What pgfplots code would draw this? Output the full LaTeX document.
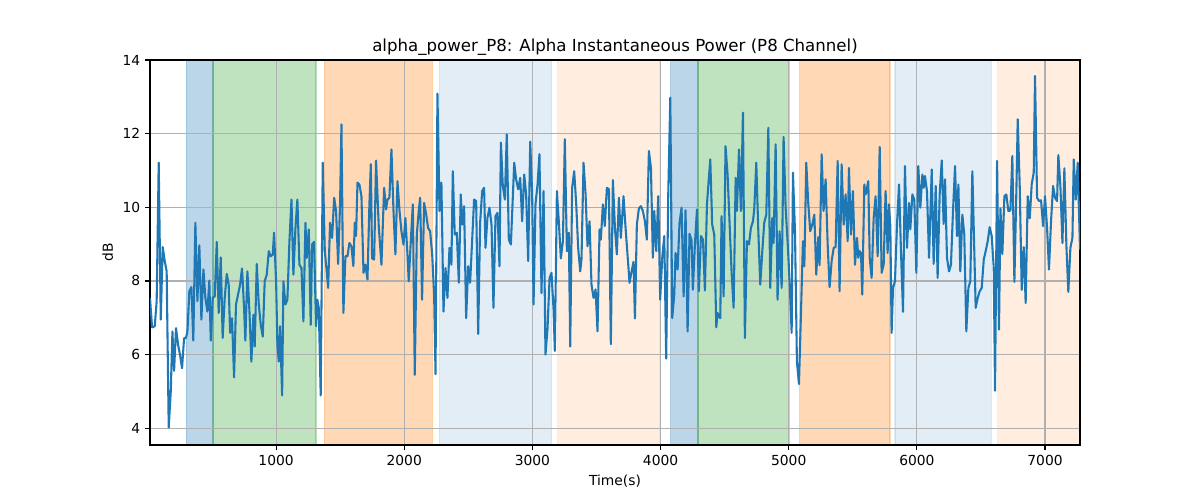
\documentclass[border=0pt]{standalone}
\usepackage{pgfplots}
\pgfplotsset{compat=1.18}
\usepackage{fontspec}
\setmainfont{DejaVu Sans}
\definecolor{tabblue}{RGB}{31,119,180}
\definecolor{taborange}{RGB}{255,127,14}
\definecolor{tabgreen}{RGB}{44,160,44}
\definecolor{gridgray}{RGB}{176,176,176}
\pgfplotsset{
  common/.style={
    at={(1.5in,0.55in)}, anchor=south west,
    scale only axis, width=9.3in, height=3.85in,
    xmin=16, xmax=7273, ymin=3.545, ymax=14,
  },
  span/.style={fill=#1, draw=#1, opacity=0.3, line width=1bp},
  lspan/.style={fill=#1, draw=#1, opacity=0.13, line width=1bp},
}
\begin{document}
\begin{tikzpicture}
\path[use as bounding box] (0,0) rectangle (12in,5in);
% background axis with shaded epochs
\begin{axis}[common, hide axis]
\addplot[span=tabblue] coordinates {(300,0) (300,20) (508,20) (508,0)} \closedcycle;
\addplot[span=tabgreen] coordinates {(508,0) (508,20) (1312,20) (1312,0)} \closedcycle;
\addplot[span=taborange] coordinates {(1377,0) (1377,20) (2220,20) (2220,0)} \closedcycle;
\addplot[lspan=tabblue] coordinates {(2275,0) (2275,20) (3149,20) (3149,0)} \closedcycle;
\addplot[lspan=taborange] coordinates {(3196,0) (3196,20) (3995,20) (3995,0)} \closedcycle;
\addplot[span=tabblue] coordinates {(4078,0) (4078,20) (4291,20) (4291,0)} \closedcycle;
\addplot[span=tabgreen] coordinates {(4291,0) (4291,20) (5004,20) (5004,0)} \closedcycle;
\addplot[span=taborange] coordinates {(5085,0) (5085,20) (5790,20) (5790,0)} \closedcycle;
\addplot[lspan=tabblue] coordinates {(5829,0) (5829,20) (6581,20) (6581,0)} \closedcycle;
\addplot[lspan=taborange] coordinates {(6631,0) (6631,20) (7400,20) (7400,0)} \closedcycle;
\end{axis}
\begin{axis}[common,
  xtick={1000,2000,...,7000}, ytick={4,6,...,14},
  scaled x ticks=false,
  /pgf/number format/1000 sep={},
  /pgf/number format/assume math mode=true,
  tick align=outside, tick pos=left,
  major tick length=3.5bp,
  tick style={black, line width=0.8bp},
  axis line style={black, line width=0.8bp},
  grid=major,
  major grid style={gridgray, line width=0.8bp},
  ticklabel style={font=\fontsize{10}{12}\selectfont},
  label style={font=\fontsize{10}{12}\selectfont},
  title style={font=\fontsize{12}{14.4}\selectfont, yshift=-0.09in},
  title={alpha\_power\_P8: Alpha Instantaneous Power (P8 Channel)},
  xlabel={Time(s)}, ylabel={dB},
]
\addplot[sharp plot, tabblue, line width=1.5bp, line join=round, mark=none] coordinates {
(16,7.54) (32,6.74) (53,6.77) (68,7.45) (84,11.21) (100,6.95) (115,8.92) (131,8.54) (146,8.26) (162,4.02) (178,5.0) (191,6.63) (204,5.56) (219,6.72) (235,6.27) (250,6.0) (266,5.63) (282,6.45) (297,6.45) (308,6.63) (323,7.72) (339,7.83) (354,6.38) (370,9.58) (386,7.45) (401,8.97) (417,6.95) (433,8.31) (448,7.54) (464,7.17) (479,8.01) (490,6.38) (505,7.54) (521,7.58) (537,9.06) (552,7.13) (568,8.64) (583,6.45) (599,7.54) (615,8.19) (630,7.9) (641,6.59) (656,6.99) (672,5.38) (687,7.36) (703,7.63) (719,7.9) (734,8.34) (750,7.27) (760,6.38) (776,8.26) (792,7.17) (807,5.81) (823,7.08) (833,6.22) (849,8.46) (864,7.4) (880,6.81) (896,6.49) (911,7.99)
(927,8.17) (943,8.81) (958,8.67) (974,8.72) (984,9.31) (1000,7.99) (1010,6.27) (1021,5.81) (1031,6.77) (1047,4.89) (1057,7.99) (1073,7.36) (1088,7.49) (1104,9.08) (1120,10.21) (1135,8.17) (1151,9.44) (1166,10.21) (1182,8.44) (1198,8.35) (1213,6.9) (1229,9.58) (1239,8.63) (1255,9.4) (1270,6.81) (1281,8.99) (1296,9.06) (1312,6.77) (1322,7.49) (1333,7.27) (1348,4.89) (1364,11.21) (1380,8.81) (1395,8.26) (1406,7.81) (1421,9.58) (1437,9.17) (1453,10.26) (1468,9.9) (1484,8.46) (1499,10.08) (1510,12.25) (1525,7.13) (1541,8.67) (1557,8.67) (1572,9.03) (1588,8.94) (1603,8.4) (1614,9.58) (1624,9.22) (1635,10.67) (1650,10.62) (1666,10.3) (1682,8.22) (1697,8.44) (1713,8.04) (1728,10.08) (1739,11.17) (1749,8.61) (1765,8.58) (1780,11.27) (1801,9.49) (1822,8.44)
(1843,10.53) (1858,9.94) (1869,10.21) (1884,10.26) (1900,11.57) (1916,9.9) (1931,8.72) (1947,10.71) (1963,9.9) (1978,9.35) (1994,8.99) (2009,9.71) (2025,8.72) (2035,7.99) (2051,9.08) (2067,10.08) (2082,5.45) (2098,9.26) (2113,9.9) (2124,10.26) (2139,7.49) (2155,10.12) (2171,9.81) (2186,9.44) (2202,9.35) (2218,8.72) (2233,7.63) (2244,5.47) (2259,13.09) (2275,9.9) (2290,10.67) (2306,7.17) (2322,8.35) (2337,7.54) (2353,8.9) (2368,8.44) (2379,10.98) (2394,9.26) (2410,9.31) (2426,7.95) (2441,10.35) (2452,9.53) (2467,10.03) (2483,6.99) (2499,8.4) (2514,7.95) (2530,9.12) (2545,10.21) (2561,10.17) (2577,6.56) (2592,9.58) (2608,10.44) (2623,10.53) (2634,8.9) (2649,9.71) (2665,9.99) (2681,9.53) (2696,7.27) (2712,9.76) (2728,9.85) (2743,8.4) (2754,11.76)
(2769,10.58) (2785,10.21) (2800,11.98) (2816,9.12) (2832,8.99) (2847,10.26) (2858,11.21) (2873,10.76) (2889,10.49) (2905,10.8) (2920,9.62) (2936,10.89) (2951,10.35) (2967,8.54) (2983,11.78) (2998,10.35) (3009,7.36) (3024,10.08) (3040,10.62) (3055,11.44) (3071,7.67) (3087,10.44) (3102,6.0) (3118,6.72) (3134,8.08) (3149,8.22) (3165,7.22) (3175,6.1) (3191,10.44) (3206,9.62) (3222,8.61) (3238,9.08) (3253,11.85) (3269,8.81) (3284,9.31) (3295,6.22) (3310,10.53) (3326,10.98) (3342,10.08) (3357,8.9) (3373,8.26) (3383,8.58) (3399,11.21) (3415,10.35) (3430,8.94) (3446,9.62) (3461,7.9) (3477,7.54) (3493,7.77) (3508,6.63) (3524,9.4) (3534,9.12) (3550,10.08) (3565,9.49) (3581,10.53) (3597,10.49) (3612,6.28) (3628,10.74) (3644,9.44) (3659,8.72) (3675,10.26)
(3690,9.17) (3711,10.3) (3727,9.44) (3742,8.72) (3758,7.95) (3774,8.26) (3789,8.52) (3800,6.98) (3815,9.53) (3831,9.97) (3847,10.03) (3862,9.9) (3878,9.62) (3893,9.12) (3909,11.53) (3925,11.07) (3940,8.63) (3951,9.9) (3966,8.81) (3982,10.3) (3997,7.49) (4013,8.63) (4029,9.22) (4044,5.89) (4060,10.35) (4076,12.98) (4091,6.99) (4107,7.63) (4117,8.76) (4133,8.31) (4148,9.58) (4164,9.99) (4180,7.58) (4195,9.92) (4211,6.63) (4226,9.28) (4242,9.1) (4252,7.76) (4268,8.99) (4284,9.94) (4299,7.72) (4315,9.22) (4331,9.12) (4346,7.74) (4362,10.08) (4377,10.8) (4388,11.3) (4403,9.53) (4419,9.26) (4435,6.74) (4445,7.13) (4455,7.04) (4466,6.99) (4476,9.76) (4492,7.58) (4507,11.66) (4523,10.89) (4539,9.53) (4554,8.26) (4570,7.27) (4586,10.8) (4596,9.9)
(4612,11.57) (4627,9.9) (4643,12.57) (4658,6.45) (4674,9.08) (4690,8.99) (4705,9.44) (4721,9.62) (4731,9.94) (4747,11.21) (4762,9.44) (4778,7.9) (4794,8.81) (4809,9.58) (4825,9.8) (4841,12.16) (4856,7.81) (4872,9.71) (4882,9.03) (4898,11.71) (4913,7.49) (4929,9.35) (4945,7.81) (4960,11.91) (4976,9.99) (4991,9.08) (5007,7.99) (5023,6.59) (5033,10.94) (5049,9.35) (5064,5.81) (5080,5.2) (5096,7.17) (5111,9.08) (5122,8.4) (5137,11.21) (5153,10.08) (5168,9.35) (5184,9.53) (5200,9.8) (5215,8.17) (5231,9.19) (5241,8.43) (5257,11.44) (5272,9.9) (5288,10.76) (5304,8.99) (5319,7.83) (5335,8.54) (5351,8.9) (5366,8.92) (5382,11.26) (5397,7.72) (5413,11.17) (5429,9.53) (5444,10.35) (5460,9.08) (5470,11.07) (5486,9.26) (5501,10.44) (5517,8.44)
(5533,9.17) (5543,8.63) (5553,8.81) (5564,8.76) (5574,7.63) (5590,10.62) (5600,10.35) (5611,10.53) (5621,10.71) (5632,8.63) (5647,8.08) (5663,9.71) (5678,10.3) (5694,8.67) (5710,11.64) (5725,8.22) (5741,8.44) (5756,10.44) (5772,8.76) (5782,10.08) (5793,9.49) (5803,6.59) (5814,7.81) (5829,7.99) (5845,9.53) (5861,10.62) (5876,8.81) (5892,7.16) (5907,11.12) (5923,8.9) (5939,10.12) (5949,9.4) (5965,10.35) (5980,10.21) (5996,8.22) (6011,11.12) (6027,9.99) (6043,10.89) (6053,10.53) (6063,10.85) (6079,10.44) (6095,8.63) (6116,11.03) (6131,8.46) (6147,10.58) (6162,8.08) (6178,10.35) (6194,11.27) (6209,9.55) (6220,10.76) (6235,8.63) (6251,8.26) (6266,8.44) (6282,9.9) (6298,11.12) (6313,9.22) (6324,10.62) (6339,8.26) (6355,9.8) (6370,9.26) (6386,6.63) (6402,7.81) (6417,7.99) (6433,10.98)
(6459,7.27) (6475,7.54) (6490,7.72) (6506,7.81) (6522,8.58) (6537,8.81) (6553,9.08) (6568,9.46) (6584,9.22) (6600,8.35) (6610,5.02) (6626,11.26) (6641,6.68) (6652,9.97) (6667,8.73) (6683,10.3) (6698,10.35) (6714,9.9) (6730,9.91) (6745,11.39) (6761,7.97) (6777,10.53) (6787,12.39) (6803,10.53) (6818,7.76) (6834,8.92) (6849,7.4) (6865,10.3) (6881,9.7) (6896,10.62) (6912,10.94) (6922,13.57) (6938,10.26) (6953,10.17) (6969,10.19) (6985,9.49) (7000,10.3) (7016,9.44) (7031,8.31) (7047,9.62) (7063,10.58) (7078,10.26) (7094,10.17) (7104,11.42) (7120,10.58) (7136,9.03) (7151,11.06) (7167,8.94) (7182,7.7) (7198,8.9) (7214,9.17) (7224,11.3) (7240,10.21) (7255,11.21) (7273,8.85)
};
\end{axis}
\end{tikzpicture}
\end{document}
